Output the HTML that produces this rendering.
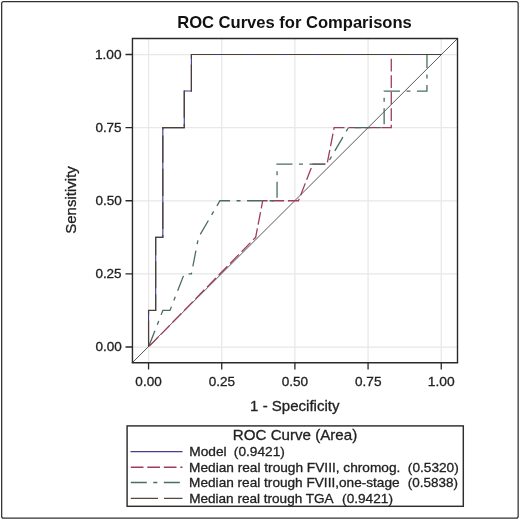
<!DOCTYPE html><html><head><meta charset="utf-8"><style>html,body{margin:0;padding:0;}svg{display:block;will-change:transform;}</style></head><body><svg xmlns="http://www.w3.org/2000/svg" width="520" height="520" viewBox="0 0 520 520">
<rect x="0" y="0" width="520" height="520" fill="#fff"/>
<rect x="1.65" y="1.65" width="516.5" height="516.5" rx="2" fill="none" stroke="#303030" stroke-width="1.25"/>
<text x="177.18" y="27.5" font-family="Liberation Sans, sans-serif" font-size="16.4" font-weight="bold" fill="#111" textLength="234.64" lengthAdjust="spacingAndGlyphs">ROC Curves for Comparisons</text>
<path d="M148.55,38.5V362.5 M132.5,347.00H457.5 M221.73,38.5V362.5 M132.5,273.88H457.5 M294.90,38.5V362.5 M132.5,200.75H457.5 M368.07,38.5V362.5 M132.5,127.62H457.5 M441.25,38.5V362.5 M132.5,54.50H457.5" stroke="#e8e8e8" stroke-width="1.25" fill="none"/>
<path d="M132.5,362.5L457.5,38.5" stroke="#505050" stroke-width="0.95" fill="none"/>
<polyline points="148.55,347.00 255.64,237.31 262.77,200.75 298.47,200.75 312.75,164.19 327.03,164.19 334.16,127.62 391.28,127.62 391.28,54.50" fill="none" stroke="#a03c58" stroke-width="1.3" stroke-dasharray="12.7,3.8" stroke-dashoffset="15.3"/>
<polyline points="148.55,347.00 162.83,310.44 169.97,310.44 184.25,273.88 191.38,273.88 198.52,237.31 219.94,200.75 277.05,200.75 277.05,164.19 327.03,164.19 348.44,127.62 384.14,127.62 384.14,91.06 426.97,91.06 426.97,54.50" fill="none" stroke="#4a6c64" stroke-width="1.3" stroke-dasharray="16,6.5,4,6.5" stroke-dashoffset="31.5"/>
<polyline points="148.55,347.00 148.55,310.44 155.69,310.44 155.69,237.31 162.83,237.31 162.83,127.62 184.25,127.62 184.25,91.06 191.38,91.06 191.38,54.50 441.25,54.50" fill="none" stroke="#3c3890" stroke-width="1.1"/>
<polyline points="148.55,347.00 148.55,310.44 155.69,310.44 155.69,237.31 162.83,237.31 162.83,127.62 184.25,127.62 184.25,91.06 191.38,91.06 191.38,54.50 441.25,54.50" fill="none" stroke="#4c4032" stroke-width="1.2" stroke-dasharray="27.2,6" stroke-dashoffset="0.6"/>
<path d="M132.45,362.8V38.45H457.5V362.8" fill="none" stroke="#2a2a2a" stroke-width="1.4"/><path d="M131.75,362.75H458.2" fill="none" stroke="#2a2a2a" stroke-width="1.7"/>
<path d="M125.5,347.00H132.5 M148.55,362.5V369.5 M125.5,273.88H132.5 M221.73,362.5V369.5 M125.5,200.75H132.5 M294.90,362.5V369.5 M125.5,127.62H132.5 M368.07,362.5V369.5 M125.5,54.50H132.5 M441.25,362.5V369.5" stroke="#2a2a2a" stroke-width="1.3" fill="none"/>
<text x="95.42" y="351.2" font-family="Liberation Sans, sans-serif" font-size="13" font-weight="normal" fill="#222" stroke="#222" stroke-width="0.3" textLength="26.31" lengthAdjust="spacingAndGlyphs">0.00</text>
<text x="135.37" y="386.0" font-family="Liberation Sans, sans-serif" font-size="13" font-weight="normal" fill="#222" stroke="#222" stroke-width="0.3" textLength="26.33" lengthAdjust="spacingAndGlyphs">0.00</text>
<text x="95.40" y="278.07" font-family="Liberation Sans, sans-serif" font-size="13" font-weight="normal" fill="#222" stroke="#222" stroke-width="0.3" textLength="26.22" lengthAdjust="spacingAndGlyphs">0.25</text>
<text x="208.71" y="386.0" font-family="Liberation Sans, sans-serif" font-size="13" font-weight="normal" fill="#222" stroke="#222" stroke-width="0.3" textLength="26.25" lengthAdjust="spacingAndGlyphs">0.25</text>
<text x="95.40" y="204.95" font-family="Liberation Sans, sans-serif" font-size="13" font-weight="normal" fill="#222" stroke="#222" stroke-width="0.3" textLength="26.31" lengthAdjust="spacingAndGlyphs">0.50</text>
<text x="281.77" y="386.0" font-family="Liberation Sans, sans-serif" font-size="13" font-weight="normal" fill="#222" stroke="#222" stroke-width="0.3" textLength="26.39" lengthAdjust="spacingAndGlyphs">0.50</text>
<text x="95.40" y="131.82" font-family="Liberation Sans, sans-serif" font-size="13" font-weight="normal" fill="#222" stroke="#222" stroke-width="0.3" textLength="26.22" lengthAdjust="spacingAndGlyphs">0.75</text>
<text x="355.03" y="386.0" font-family="Liberation Sans, sans-serif" font-size="13" font-weight="normal" fill="#222" stroke="#222" stroke-width="0.3" textLength="26.44" lengthAdjust="spacingAndGlyphs">0.75</text>
<text x="94.90" y="58.7" font-family="Liberation Sans, sans-serif" font-size="13" font-weight="normal" fill="#222" stroke="#222" stroke-width="0.3" textLength="26.67" lengthAdjust="spacingAndGlyphs">1.00</text>
<text x="427.73" y="386.0" font-family="Liberation Sans, sans-serif" font-size="13" font-weight="normal" fill="#222" stroke="#222" stroke-width="0.3" textLength="26.94" lengthAdjust="spacingAndGlyphs">1.00</text>
<text x="250.12" y="411" font-family="Liberation Sans, sans-serif" font-size="15" font-weight="normal" fill="#222" stroke="#222" stroke-width="0.3" textLength="89.39" lengthAdjust="spacingAndGlyphs">1 - Specificity</text>
<text transform="translate(76.2,200) rotate(-90)" x="0" y="0" font-family="Liberation Sans, sans-serif" font-size="15" text-anchor="middle" fill="#222" stroke="#222" stroke-width="0.3">Sensitivity</text>
<rect x="127.1" y="425.9" width="336.2" height="80.4" fill="none" stroke="#2e2e2e" stroke-width="1.45"/>
<text x="232.87" y="439.9" font-family="Liberation Sans, sans-serif" font-size="14.2" font-weight="normal" fill="#222" stroke="#222" stroke-width="0.3" textLength="124.35" lengthAdjust="spacingAndGlyphs">ROC Curve (Area)</text>
<path d="M130.5,451.6H182.5" stroke="#443f88" stroke-width="1.3"/>
<path d="M130.8,467.2H182.5" stroke="#a03c58" stroke-width="1.4" stroke-dasharray="12.7,3.8"/>
<path d="M130.8,482.5H182.5" stroke="#4a6c64" stroke-width="1.4" stroke-dasharray="16,6.5,4,6.5"/>
<path d="M130.8,498.3H182.5" stroke="#58483c" stroke-width="1.3" stroke-dasharray="27.2,6"/>
<text x="189.24" y="456.0" font-family="Liberation Sans, sans-serif" font-size="13" font-weight="normal" fill="#222" stroke="#222" stroke-width="0.3" textLength="37.37" lengthAdjust="spacingAndGlyphs">Model</text>
<text x="233.86" y="456.0" font-family="Liberation Sans, sans-serif" font-size="13" font-weight="normal" fill="#222" stroke="#222" stroke-width="0.3" textLength="51.03" lengthAdjust="spacingAndGlyphs">(0.9421)</text>
<text x="189.08" y="471.6" font-family="Liberation Sans, sans-serif" font-size="13" font-weight="normal" fill="#222" stroke="#222" stroke-width="0.3" textLength="211.25" lengthAdjust="spacingAndGlyphs">Median real trough FVIII, chromog.</text>
<text x="407.85" y="471.6" font-family="Liberation Sans, sans-serif" font-size="13" font-weight="normal" fill="#222" stroke="#222" stroke-width="0.3" textLength="50.89" lengthAdjust="spacingAndGlyphs">(0.5320)</text>
<text x="189.13" y="487.0" font-family="Liberation Sans, sans-serif" font-size="13" font-weight="normal" fill="#222" stroke="#222" stroke-width="0.3" textLength="210.43" lengthAdjust="spacingAndGlyphs">Median real trough FVIII,one-stage</text>
<text x="407.84" y="487.0" font-family="Liberation Sans, sans-serif" font-size="13" font-weight="normal" fill="#222" stroke="#222" stroke-width="0.3" textLength="50.09" lengthAdjust="spacingAndGlyphs">(0.5838)</text>
<text x="189.17" y="502.6" font-family="Liberation Sans, sans-serif" font-size="13" font-weight="normal" fill="#222" stroke="#222" stroke-width="0.3" textLength="144.48" lengthAdjust="spacingAndGlyphs">Median real trough TGA</text>
<text x="342.11" y="502.6" font-family="Liberation Sans, sans-serif" font-size="13" font-weight="normal" fill="#222" stroke="#222" stroke-width="0.3" textLength="50.83" lengthAdjust="spacingAndGlyphs">(0.9421)</text>
</svg></body></html>
